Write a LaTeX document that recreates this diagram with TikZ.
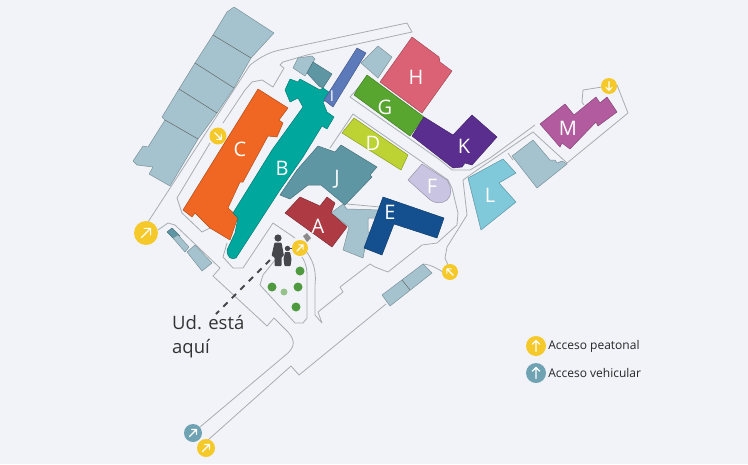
\documentclass[tikz,border=0pt]{standalone}
\usepackage{fontspec}
\setmainfont{Open Sans}
\usepackage{xcolor}
\usetikzlibrary{positioning}
\definecolor{fondo}{HTML}{F1F3F8}
\definecolor{via}{HTML}{A8ADB2}
\definecolor{claro}{HTML}{A5C3CE}
\definecolor{edA}{HTML}{AE3A44}
\definecolor{edB}{HTML}{00A79D}
\definecolor{edC}{HTML}{EF6722}
\definecolor{edD}{HTML}{BDD233}
\definecolor{edE}{HTML}{14508F}
\definecolor{edF}{HTML}{C9C4E2}
\definecolor{edG}{HTML}{58A630}
\definecolor{edH}{HTML}{DB6274}
\definecolor{edI}{HTML}{5C79B9}
\definecolor{edJ}{HTML}{5F96A4}
\definecolor{edK}{HTML}{5A2E8E}
\definecolor{edL}{HTML}{7FC9DA}
\definecolor{edM}{HTML}{B25C9F}
\definecolor{amarillo}{HTML}{F5C929}
\definecolor{azulgate}{HTML}{6FA3B3}
\definecolor{arbol}{HTML}{4F9A3E}
\definecolor{persona}{HTML}{45474B}
\tikzset{
  via/.style={draw=via,line width=.8pt,line join=round},
  ed/.style={fill=#1,draw=#1!75!black,line width=.5pt,line join=round},
  letra/.style={text=white,font=\fontsize{20}{20}\selectfont,inner sep=0pt},
  arbolito/.style={circle,fill=arbol,minimum size=9pt,inner sep=0pt},
  gate/.style={circle,fill=#1,minimum size=17pt,inner sep=0pt},
  leyenda/.style={font=\fontsize{12}{14}\selectfont,text=black!85,inner sep=0pt,right=2pt of #1},
  flecha/.pic={\draw[white,line width=1.1pt,line cap=round,line join=round]
     (0,-#1) -- (0,#1) (-.7*#1,-.3*#1) -- (0,-#1) -- (.7*#1,-.3*#1);}
}
\begin{document}
\begin{tikzpicture}[x=1pt,y=-1pt]
\useasboundingbox[fill=fondo] (0,0) rectangle (748,464);

% vias
\draw[via] (250,65) .. controls (262,56) and (270,52) .. (280,50) -- (407,23) -- (412,32) -- (307,55) -- (283,62) -- (280,65) -- (284,68) -- (273,87) -- (262,80) -- (252,82) -- (245,90) -- (223,123);
\draw[via] (210,143) -- (177,198) -- (182,213) -- (202,232) -- (210,228);
\draw[via] (250,65) -- (148,222);
\draw[via] (158,230) -- (168,223) -- (175,225) -- (220,268) -- (213,276) -- (267,326) -- (274,318) -- (288,332) .. controls (295,340) and (295,346) .. (288,353) -- (200,427);
\draw[via] (208,440) -- (291,366) -- (299,375) -- (386,304);
\draw[via] (318,312) -- (343,292) -- (340,287) -- (370,264) -- (375,267) -- (388,272) -- (422,245) -- (437,243) -- (457,225) -- (458,213) -- (452,188) -- (448,180) -- (353,114) -- (330,148);
\draw[via] (318,312) -- (322,323) -- (315,315) -- (315,285) .. controls (317,270) and (312,258) .. (305,250);
\draw[via] (273,223) -- (243,268) -- (233,268) -- (223,257) -- (227,243);
\draw[via] (273,223) -- (295,238);
\draw[via] (302,257) .. controls (307,265) and (307,270) .. (307,280) -- (307,318) -- (303,323) -- (295,323) -- (260,285) -- (263,275) -- (275,260);
\draw[via] (358,88) -- (350,97) -- (440,160) -- (452,170) -- (470,170) -- (490,158) -- (535,125);
\draw[via] (451,272) -- (445,258) -- (447,247) -- (467,215) -- (463,180) -- (480,168) -- (533,132) -- (567,163) -- (628,113) -- (617,85);
\draw[via] (423,264) .. controls (432,265) and (436,268) .. (443,272);
\draw[via] (602,87) -- (583,90) -- (582,102) -- (584,105);
\draw[via] (508,153) -- (513,160);
\draw[via] (347,204) -- (380,207);

% edificios claros
\draw[ed=claro] (234,7) -- (274,33) -- (251,58) -- (234,88) -- (217,113) -- (198,139) -- (170,186) -- (149,174) -- (153,167) -- (137,165) -- (133,161) -- (143,146) -- (148,147) -- (165,120) -- (162,117) -- (179,89) -- (195,63) -- (213,35) -- (227,12) -- cycle;
\foreach \xa/\ya/\xb/\yb in {213/35/251/58,195/63/234/88,179/89/217/113,165/120/198/139}
  \draw[black!60,line width=.5pt] (\xa,\ya) -- (\xb,\yb);
\draw[ed=claro] (293,68) -- (298,58) -- (312,56) -- (315,59) -- (305,76) -- cycle;
\draw[ed=edJ] (307,73) -- (313,62) -- (332,74) -- (323,88) -- (319,86) -- cycle;
\draw[ed=claro] (361,63) -- (378,46) -- (392,57) -- (378,78) -- cycle;
\draw[ed=claro] (512,156) -- (533,140) -- (550,160) -- (555,160) -- (557,163) -- (562,161) -- (567,164) -- (537,188) -- cycle;
\draw[ed=claro] (331,213) -- (343,204) -- (347,209) -- (380,210) -- (376,218) -- (368,218) -- (368,232) -- (371,232) -- (365,248) -- (363,258) -- (343,250) -- (349,227) -- cycle;
\draw[ed=edJ] (167,232) -- (172,228) -- (180,236) -- (175,240) -- cycle;
\draw[ed=claro] (173,238) -- (178,235) -- (189,247) -- (185,252) -- cycle;
\draw[ed=claro] (187,252) -- (195,245) -- (212,263) -- (202,271) -- cycle;
\draw[ed=claro] (382,295) -- (423,264) -- (432,273) -- (390,306) -- cycle;
\draw[black!60,line width=.5pt] (402,280) -- (410,290);
\fill[fondo] (268,140) -- (276,146) -- (272,153) -- (264,147) -- cycle;

% edificios
\draw[ed=edC] (258,89) -- (288,108) -- (279,120) -- (283,123) -- (277,137) -- (268,136) -- (243,182) -- (240,182) -- (228,208) -- (238,217) -- (230,240) -- (210,228) -- (195,213) -- (192,217) -- (183,210) -- cycle;
\draw[ed=edJ] (280,195) -- (297,170) -- (318,146) -- (335,152) -- (341,145) -- (377,167) -- (370,175) -- (372,177) -- (345,205) -- (321,185) -- (308,185) -- (290,199) -- cycle;
\draw[ed=edB] (290,79) -- (298,82) -- (300,79) -- (320,90) -- (323,88) -- (333,95) -- (323,102) -- (327,112) -- (334,117) -- (327,129) -- (322,126) -- (303,157) -- (280,190) -- (236,258) .. controls (232,260) and (227,258) .. (227,250) -- (235,233) -- (238,218) -- (233,213) -- (272,150) -- (303,107) -- (298,98) -- (290,102) -- (285,90) -- cycle;
\draw[ed=edI] (324,100) -- (357,48) -- (366,53) -- (333,107) -- cycle;
\draw[ed=edA] (285,213) -- (300,197) -- (320,206) -- (327,197) -- (335,203) -- (331,213) -- (347,227) -- (332,247) -- cycle;
\draw[ed=edD] (354,118) -- (408,155) -- (401,170) -- (342,133) -- cycle;
\draw[ed=edE] (383,197) -- (444,218) -- (437,238) -- (394,224) -- (382,255) -- (364,248) -- cycle;
\draw[ed=edF] (408,180) -- (422,164) -- (447,180) .. controls (452,188) and (452,196) .. (447,200) .. controls (442,204) and (434,204) .. (428,198) -- cycle;
\draw[ed=edH] (380,82) -- (412,37) -- (439,57) -- (440,62) -- (452,71) -- (422,113) -- cycle;
\draw[ed=edG] (367,75) -- (424,117) -- (410,136) -- (354,95) -- (358,88) -- cycle;
\draw[ed=edK] (424,117) -- (453,135) -- (472,115) -- (497,137) -- (472,165) -- (465,163) -- (462,167) -- (453,168) -- (412,136) -- cycle;
\draw[ed=edL] (468,178) -- (503,159) -- (516,173) -- (499,183) -- (516,202) -- (481,230) -- cycle;
\draw[ed=edM] (540,124) -- (565,104) -- (574,115) -- (596,97) -- (600,103) -- (607,97) -- (617,112) -- (598,126) -- (596,122) -- (570,149) -- (562,143) -- (560,147) -- cycle;
\fill[black!45] (303,236) -- (307,233) -- (311,238) -- (307,242) -- cycle;

% letras
\foreach \letra/\px/\py in {A/318/226,B/282/168,C/240/149,D/373/143,E/390/212,F/432/186,G/385/107,H/416/77,J/337/179,K/464/146,L/490/195,M/568/128}
  \node[letra] (l\letra) at (\px,\py) {\letra};
\node[letra,font=\fontsize{15}{15}\selectfont] (lI) at (332,96) {I};

% arboles
\foreach \px/\py [count=\i] in {300/271,272/287,298/287,296/307}
  \node[arbolito] (arb\i) at (\px,\py) {};
\node[arbolito,fill=arbol!60,minimum size=7pt] (arb5) at (284,292) {};

% aqui
\draw[persona,line width=1.8pt,dash pattern=on 6pt off 6pt] (270,260) -- (216,314);
\fill[persona] (278,238) circle (3.6);
\fill[persona,rounded corners=1pt] (274.5,242.5) -- (281.5,242.5) -- (284,256) -- (281.5,257) -- (281.5,266) -- (274.5,266) -- (274.5,257) -- (271.5,256) -- cycle;
\fill[persona] (287.5,248.5) circle (2.7);
\fill[persona,rounded corners=.6pt] (285,252) -- (290,252) -- (291.5,259) -- (290.5,266) -- (284.5,266) -- (283.5,259) -- cycle;
\draw[persona,line width=.6pt] (290,248) -- (294,248);

\node[font=\fontsize{18.5}{24}\selectfont,text=black!80,align=left,anchor=west,inner sep=0pt] (aqui) at (172,337) {Ud. está\\aquí};

% accesos
\foreach \px/\py/\r/\giro [count=\i] in {146/233/12/-45,218/136/8.5/-135,300/248/8/-45,450/272/8/45,609/86/8/180,206/448/9/-45}{
  \node[gate=amarillo,minimum size=2*\r] (ped\i) at (\px,\py) {};
  \pic[rotate=\giro] at (ped\i) {flecha={.55*\r}};
}
\node[gate=azulgate,minimum size=18pt] (veh1) at (193,433) {};
\pic[rotate=-45] at (veh1) {flecha={5}};

% leyenda
\node[gate=amarillo,minimum size=20pt] (leyP) at (536,346) {};
\pic at (leyP) {flecha={5.5}};
\node[gate=azulgate,minimum size=20pt] (leyV) at (536,373) {};
\pic at (leyV) {flecha={5.5}};
\node[leyenda=leyP] (txtP) {Acceso peatonal};
\node[leyenda=leyV] (txtV) {Acceso vehicular};
\end{tikzpicture}
\end{document}
